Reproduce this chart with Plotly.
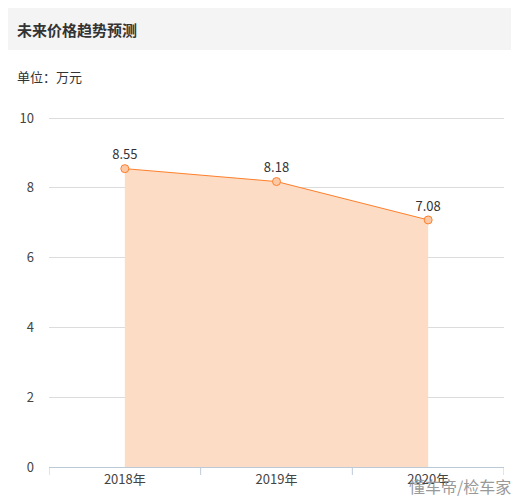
import plotly.graph_objects as go

categories = ["2018年", "2019年", "2020年"]
values = [8.55, 8.18, 7.08]
y_ticks = [0, 2, 4, 6, 8, 10]

x = list(range(len(categories)))
fig = go.Figure()
fig.add_trace(go.Scatter(
    x=x, y=values, mode="lines+markers+text",
    text=[f"{v:.2f}" for v in values], textposition="top center",
    textfont=dict(size=13, color="#333"),
    line=dict(color="#ff7f2a", width=1),
    marker=dict(size=8, color="#fdc9a5", line=dict(color="#ff7f2a", width=1)),
    fill="tozeroy", fillcolor="#fddcc5", cliponaxis=False,
))
fig.update_layout(
    width=511, height=495, margin=dict(l=37, r=15, t=109, b=36),
    paper_bgcolor="white", plot_bgcolor="white", showlegend=False,
    font=dict(family="Noto Sans CJK SC", size=13, color="#333"),
    xaxis=dict(range=[-0.5, 2.5], tickmode="array", tickvals=x, ticktext=categories,
               showgrid=False, zeroline=False, showline=True, linecolor="#bccad8",
               ticks="", tickfont=dict(size=13, color="#444"), fixedrange=True),
    yaxis=dict(range=[0, 10.03], tickvals=y_ticks, showgrid=True, gridcolor="#dcdcdc",
               zeroline=False, tickfont=dict(size=13, color="#444"), ticklabelstandoff=14),
    shapes=[
        dict(type="rect", xref="paper", yref="paper", x0=-50/459, x1=467/459,
             y0=(467-7)/350, y1=(467-50)/350, fillcolor="#f4f4f4", line_width=0, layer="below"),
    ] + [dict(type="line", xref="x", yref="paper", x0=t, x1=t, y0=0, y1=-8/350,
              line=dict(color="#bccad8", width=1)) for t in [-0.5, 0.5, 1.5, 2.5]],
    annotations=[
        dict(text="<b>未来价格趋势预测</b>", xref="paper", yref="paper", x=-34/459, y=(467-29)/350,
             xanchor="left", yanchor="middle", showarrow=False, font=dict(size=15, color="#333")),
        dict(text="单位：万元", xref="paper", yref="paper", x=-34/459, y=(467-77)/350,
             xanchor="left", yanchor="middle", showarrow=False, font=dict(size=13, color="#333")),
        dict(text="懂车帝/检车家", xref="paper", yref="paper", x=468/459, y=-19/350,
             xanchor="right", yanchor="middle", showarrow=False, font=dict(size=16, color="#999")),
    ],
)
fig.write_html("out.html")
